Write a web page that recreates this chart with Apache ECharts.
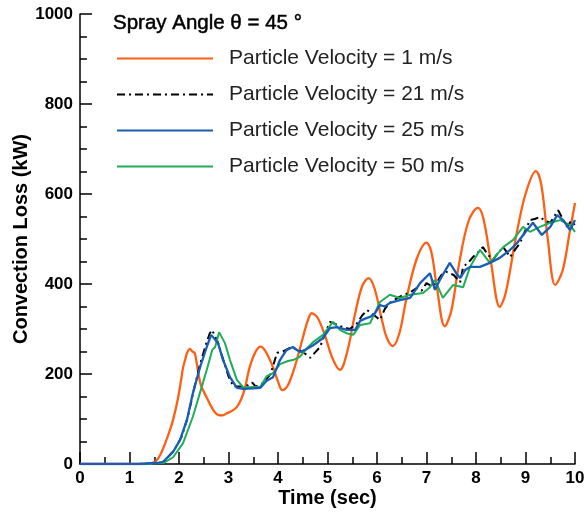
<!DOCTYPE html>
<html>
<head>
<meta charset="utf-8">
<script src="https://cdn.jsdelivr.net/npm/echarts@6/dist/echarts.min.js"></script>
<style>html,body{margin:0;padding:0;background:#fff}#c{width:584px;height:517px}</style>
</head>
<body>
<div id="c"></div>
<script>
// ---- Data (Time in sec, Convection Loss in kW) ----
const seriesNames = ['Particle Velocity = 1 m/s','Particle Velocity = 21 m/s','Particle Velocity = 25 m/s','Particle Velocity = 50 m/s'];
const xTicks = [0,1,2,3,4,5,6,7,8,9,10];
const yTicks = [0,200,400,600,800,1000];

const t1 = [0,1.0,1.3,1.4,1.52,1.62,1.72,1.8,1.88,1.98,2.04,2.08,2.12,2.16,2.22,2.27,2.32,2.38,2.44,2.55,2.67,2.79,2.88,2.97,3.07,3.17,3.26,3.33,3.43,3.55,3.65,3.75,3.9,4.0,4.09,4.2,4.35,4.5,4.6,4.68,4.8,4.95,5.1,5.25,5.4,5.55,5.7,5.83,5.95,6.1,6.2,6.32,6.45,6.6,6.8,7.0,7.1,7.2,7.37,7.5,7.65,7.85,8.04,8.15,8.3,8.48,8.6,8.8,9.0,9.21,9.32,9.45,9.6,9.75,9.9,10.0];
const v1 = [0,0,0,1,5,20,46,70,98,146,185,213,230,246,256,250,246,209,176,150,124,109,108,113,118,127,145,168,216,250,261,250,215,183,164,175,220,280,318,335,325,285,235,209,250,330,395,413,390,320,280,262,290,370,455,492,470,400,306,340,440,540,569,545,450,349,380,500,600,651,620,500,398,430,520,580];

const t2 = [0,1.2,1.6,1.7,1.9,2.05,2.18,2.3,2.42,2.55,2.62,2.67,2.72,2.78,2.89,3.0,3.1,3.25,3.4,3.48,3.55,3.7,3.85,3.98,4.1,4.24,4.4,4.55,4.65,4.75,4.85,4.95,5.05,5.18,5.31,5.45,5.6,5.7,5.8,5.95,6.06,6.16,6.26,6.4,6.53,6.65,6.8,6.9,7.0,7.1,7.2,7.3,7.4,7.55,7.68,7.74,7.84,7.94,8.04,8.14,8.24,8.34,8.45,8.55,8.69,8.8,8.89,9.0,9.09,9.2,9.29,9.4,9.5,9.58,9.66,9.75,9.84,9.92,10.0];
const v2 = [0,0,3,6,30,60,105,165,220,268,290,298,285,272,233,195,172,172,175,181,172,180,200,247,250,258,255,245,236,248,260,290,316,310,304,300,313,330,342,330,320,345,358,368,376,380,391,385,402,395,402,420,427,420,404,438,447,460,470,482,465,453,470,482,460,478,491,520,542,545,549,540,536,550,564,545,527,540,531];

const t3 = [0,1.2,1.6,1.68,1.88,2.02,2.16,2.28,2.42,2.56,2.65,2.68,2.79,2.89,3.03,3.17,3.3,3.5,3.64,3.77,3.9,4.04,4.17,4.3,4.44,4.57,4.71,4.91,5.05,5.19,5.39,5.56,5.66,5.76,5.86,5.96,6.06,6.16,6.26,6.46,6.67,6.87,7.07,7.17,7.27,7.47,7.6,7.68,7.78,7.88,8.08,8.28,8.48,8.69,8.83,9.03,9.15,9.33,9.5,9.64,9.76,9.9,10.0];
const v3 = [0,0,3,5,27,53,98,157,213,260,287,291,268,231,193,169,167,168,169,185,193,231,253,260,249,255,264,280,302,304,298,298,318,323,327,335,353,350,358,364,369,402,424,387,409,447,424,413,431,438,438,447,458,476,491,520,536,509,527,553,542,520,542];

const t4 = [0,1.3,1.7,1.88,2.08,2.28,2.42,2.56,2.67,2.73,2.81,2.93,3.03,3.17,3.3,3.5,3.64,3.77,3.9,4.04,4.2,4.3,4.44,4.57,4.71,4.91,5.11,5.25,5.4,5.52,5.66,5.86,6.06,6.26,6.46,6.67,6.93,7.07,7.17,7.33,7.54,7.74,7.88,8.08,8.28,8.55,8.75,8.95,9.09,9.29,9.5,9.7,9.9,10.0];
const v4 = [0,0,3,15,46,105,157,209,253,260,293,268,231,187,170,171,171,195,202,222,229,231,238,255,271,287,316,298,290,287,309,313,360,376,369,376,380,393,409,369,398,393,438,476,447,482,498,527,516,527,536,542,531,516];

const colors = ['#ff5f14','#000000','#1a5db5','#1fae57'];

function pairs(t, v){ return t.map((x,i)=>[x, v[i]]); }

const chart = echarts.init(document.getElementById('c'));
const font = '"Liberation Sans", Arial, Helvetica, sans-serif';
chart.setOption({
  animation: false,
  backgroundColor: '#fff',
  textStyle: { fontFamily: font },
  title: {
    text: 'Spray Angle θ = 45 °',
    left: 113, top: 13, padding: 0,
    textStyle: { fontFamily: font, fontSize: 20.5, fontWeight: 'normal', color: '#000', textBorderColor: '#000', textBorderWidth: 0.5 }
  },
  legend: {
    orient: 'vertical',
    left: 116, top: 48, padding: 0,
    itemWidth: 96, itemHeight: 21, itemGap: 15,
    itemStyle: { opacity: 0 },
    textStyle: { fontFamily: font, fontSize: 21, color: '#222', padding: [0,0,0,11] },
    data: seriesNames
  },
  grid: { left: 80, right: 9, top: 14, bottom: 53, containLabel: false, outerBoundsMode: 'none' },
  xAxis: {
    type: 'value', min: xTicks[0], max: xTicks[xTicks.length-1], interval: 1,
    name: 'Time (sec)', nameLocation: 'middle', nameGap: 24, nameMoveOverlap: false,
    nameTextStyle: { fontFamily: font, fontSize: 20, fontWeight: 'bold', color: '#000' },
    axisLine: { lineStyle: { color: '#000', width: 1.5 } },
    axisTick: { inside: true, length: 12, lineStyle: { color: '#000', width: 1.5 } },
    minorTick: { show: true, splitNumber: 2, length: 7, lineStyle: { color: '#000', width: 1.5 } },
    axisLabel: { fontFamily: font, fontSize: 17, fontWeight: 'bold', color: '#000', margin: 6, formatter: v => String(v) },
    splitLine: { show: false }
  },
  yAxis: {
    type: 'value', min: yTicks[0], max: yTicks[yTicks.length-1], interval: 200,
    name: 'Convection Loss (kW)', nameLocation: 'middle', nameGap: 49, nameMoveOverlap: false,
    nameTextStyle: { fontFamily: font, fontSize: 20, fontWeight: 'bold', color: '#000' },
    axisLine: { show: true, lineStyle: { color: '#000', width: 1.5 } },
    axisTick: { show: true, inside: true, length: 12, lineStyle: { color: '#000', width: 1.5 } },
    minorTick: { show: true, splitNumber: 4, length: 7, lineStyle: { color: '#000', width: 1.5 } },
    axisLabel: { fontFamily: font, fontSize: 17, fontWeight: 'bold', color: '#000', margin: 7, formatter: v => String(v) },
    splitLine: { show: false }
  },
  series: [
    { name: seriesNames[0], type: 'line', symbol: 'none', smooth: 0.35, data: pairs(t1, v1), z: 2,
      lineStyle: { color: colors[0], width: 2.3 }, itemStyle: { color: colors[0] } },
    { name: seriesNames[1], type: 'line', symbol: 'none', data: pairs(t2, v2), z: 3,
      lineStyle: { color: colors[1], width: 2, type: [8,4,2,4] }, itemStyle: { color: colors[1] } },
    { name: seriesNames[2], type: 'line', symbol: 'none', data: pairs(t3, v3), z: 5,
      lineStyle: { color: colors[2], width: 2.3 }, itemStyle: { color: colors[2] } },
    { name: seriesNames[3], type: 'line', symbol: 'none', data: pairs(t4, v4), z: 4,
      lineStyle: { color: colors[3], width: 2 }, itemStyle: { color: colors[3] } }
  ]
});
</script>
</body>
</html>
